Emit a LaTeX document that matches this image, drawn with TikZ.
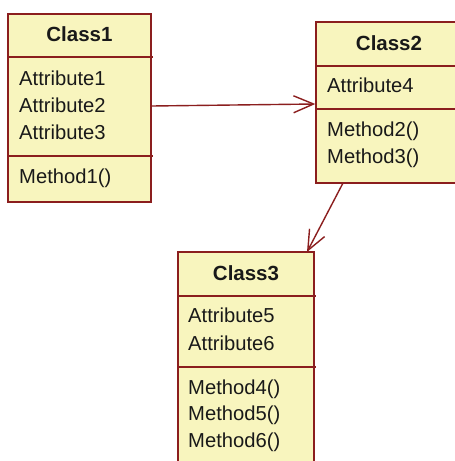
\documentclass[tikz,border=0pt]{standalone}
\usepackage{fontspec}
\setmainfont{Liberation Sans}
\usetikzlibrary{arrows.meta}
\definecolor{umlline}{RGB}{139,30,30}
\definecolor{umlfill}{RGB}{248,245,190}
\tikzset{
  classbox/.style={draw=umlline, fill=umlfill, line width=1.4pt, inner sep=0pt},
  divider/.style={draw=umlline, line width=1.4pt},
  member/.style={anchor=base west, inner sep=0pt, font=\fontsize{20.2}{24}\selectfont, text=black!90},
  title/.style={anchor=base, inner sep=0pt, font=\fontsize{20.5}{24}\selectfont\bfseries, text=black!90},
  assoc/.style={draw=umlline, line width=1.4pt, -{Straight Barb[length=20pt, width=17pt, line width=1.4pt]}}
}
\begin{document}
\begin{tikzpicture}[x=1pt,y=-1pt]
\useasboundingbox (0,0) rectangle (455,461);
% Class1
\node[classbox, minimum width=143pt, minimum height=188pt] (c1) at (79.5,108) {};
\draw[divider] (8,57) -- (153,57);
\draw[divider] (8,156) -- (153,156);
\node[title] (c1t) at (79.5,41.7) {Class1};
\node[member] (a1) at (19,85.7) {Attribute1};
\node[member] (a2) at (19,112.4) {Attribute2};
\node[member] (a3) at (19,139) {Attribute3};
\node[member] (m1) at (19,183) {Method1()};
% Class2
\node[classbox, minimum width=146pt, minimum height=161pt] (c2) at (389,102.5) {};
\draw[divider] (316,66) -- (462,66);
\draw[divider] (316,109) -- (462,109);
\node[title] (c2t) at (389,50) {Class2};
\node[member] (a4) at (327,92) {Attribute4};
\node[member] (m2) at (327,136.7) {Method2()};
\node[member] (m3) at (327,163.3) {Method3()};
% Class3
\node[classbox, minimum width=136pt, minimum height=223pt] (c3) at (246,363.5) {};
\draw[divider] (178,296) -- (316,296);
\draw[divider] (178,367) -- (316,367);
\node[title] (c3t) at (246,280.7) {Class3};
\node[member] (a5) at (188,322.7) {Attribute5};
\node[member] (a6) at (188,350) {Attribute6};
\node[member] (m4) at (188,394) {Method4()};
\node[member] (m5) at (188,420.7) {Method5()};
\node[member] (m6) at (188,447.3) {Method6()};
% connectors
\coordinate (s1) at (c1.east |- 0,106);
\coordinate (e1) at (c2.west |- 0,104);
\draw[assoc] (s1) -- (e1);
\coordinate (s2) at (343,183);
\coordinate (e2) at (307,252);
\draw[assoc] (s2) -- (e2);
\end{tikzpicture}
\end{document}
